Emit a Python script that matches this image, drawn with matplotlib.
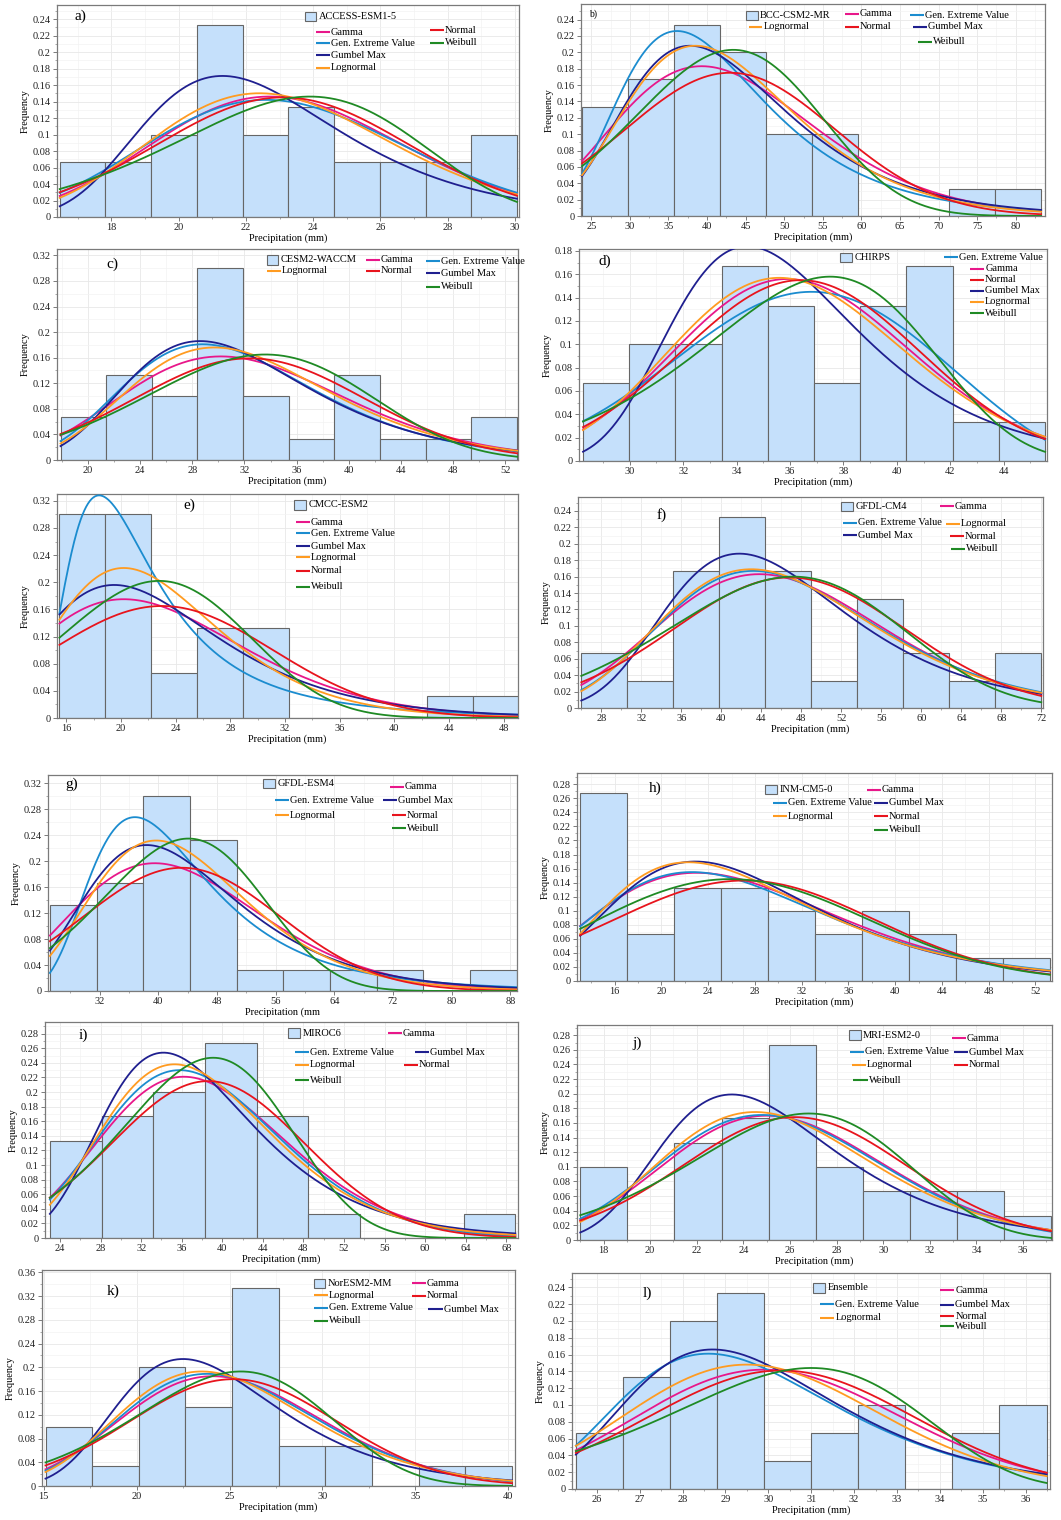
import math

import numpy as np
import matplotlib
matplotlib.use("Agg")
import matplotlib.pyplot as plt
from matplotlib.patches import Rectangle
from matplotlib.ticker import MultipleLocator, AutoMinorLocator, FuncFormatter

plt.rcParams["font.family"] = ["Liberation Serif", "DejaVu Serif"]

W, H = 1061, 1520

# order of the fitted distributions in every *_mode / *_peak list
DISTS = ["Gamma", "GEV", "Gumbel", "Lognormal", "Normal", "Weibull"]
LABELS = {"Gamma": "Gamma", "GEV": "Gen. Extreme Value", "Gumbel": "Gumbel Max",
          "Lognormal": "Lognormal", "Normal": "Normal", "Weibull": "Weibull"}
COLORS = {"Gamma": "#e8178a", "GEV": "#1b8ccf", "Gumbel": "#1f1f8f",
          "Lognormal": "#ff9b21", "Normal": "#e8141d", "Weibull": "#1f8a24"}
BAR_FACE = "#c5e0fb"
BAR_EDGE = "#666666"

# ---- data ----------------------------------------------------------------
# *_bins: (first bin edge, bin width); *_freq: histogram frequencies
# *_mode / *_peak: position and height of each fitted curve's maximum
# *_gevk: shape parameter of the GEV fit

a_name = "ACCESS-ESM1-5"
a_bins = (16.46, 1.36)
a_freq = [0.067, 0.067, 0.1, 0.233, 0.1, 0.133, 0.067, 0.067, 0.067, 0.1]
a_mode = [22.7, 22.6, 21.3, 22.4, 23.1, 23.9]
a_peak = [0.146, 0.142, 0.171, 0.150, 0.145, 0.146]
a_gevk = -0.22

b_name = "BCC-CSM2-MR"
b_bins = (23.8, 5.95)
b_freq = [0.133, 0.167, 0.233, 0.2, 0.1, 0.1, 0.0, 0.0, 0.033, 0.033]
b_mode = [39.3, 36.1, 37.8, 38.5, 43.0, 43.4]
b_peak = [0.183, 0.226, 0.208, 0.208, 0.175, 0.203]
b_gevk = 0.05

c_name = "CESM2-WACCM"
c_bins = (17.9, 3.5)
c_freq = [0.067, 0.133, 0.1, 0.3, 0.1, 0.033, 0.133, 0.033, 0.033, 0.067]
c_mode = [30.2, 28.8, 28.6, 29.7, 32.4, 33.6]
c_peak = [0.162, 0.181, 0.186, 0.176, 0.159, 0.165]
c_gevk = -0.05

d_name = "CHIRPS"
d_bins = (28.25, 1.73)
d_freq = [0.067, 0.1, 0.1, 0.167, 0.133, 0.067, 0.133, 0.167, 0.033, 0.033]
d_mode = [35.9, 36.8, 34.4, 35.6, 36.4, 37.5]
d_peak = [0.156, 0.145, 0.184, 0.157, 0.155, 0.158]
d_gevk = -0.36

e_name = "CMCC-ESM2"
e_bins = (15.5, 3.36)
e_freq = [0.3, 0.3, 0.067, 0.133, 0.133, 0.0, 0.0, 0.0, 0.033, 0.033]
e_mode = [20.2, 18.4, 19.5, 20.2, 23.0, 22.8]
e_peak = [0.175, 0.328, 0.196, 0.221, 0.165, 0.202]
e_gevk = 0.3

f_name = "GFDL-CM4"
f_bins = (26.0, 4.6)
f_freq = [0.067, 0.033, 0.167, 0.233, 0.167, 0.033, 0.133, 0.067, 0.033, 0.067]
f_mode = [43.8, 43.2, 41.8, 43.0, 46.8, 47.2]
f_peak = [0.163, 0.167, 0.188, 0.169, 0.159, 0.160]
f_gevk = -0.1

g_name = "GFDL-ESM4"
g_bins = (25.2, 6.37)
g_freq = [0.133, 0.167, 0.3, 0.233, 0.033, 0.033, 0.033, 0.033, 0.0, 0.033]
g_mode = [39.5, 36.8, 38.4, 39.7, 43.2, 44.1]
g_peak = [0.197, 0.268, 0.225, 0.232, 0.190, 0.235]
g_gevk = 0.15

h_name = "INM-CM5-0"
h_bins = (13.05, 4.02)
h_freq = [0.267, 0.067, 0.133, 0.133, 0.1, 0.067, 0.1, 0.067, 0.033, 0.033]
h_mode = [23.0, 22.6, 22.9, 22.3, 27.1, 25.9]
h_peak = [0.154, 0.155, 0.170, 0.169, 0.143, 0.145]
h_gevk = -0.02

i_name = "MIROC6"
i_bins = (23.0, 5.1)
i_freq = [0.133, 0.167, 0.2, 0.267, 0.167, 0.033, 0.0, 0.0, 0.033]
i_mode = [36.2, 35.8, 34.2, 35.3, 38.6, 39.1]
i_peak = [0.221, 0.230, 0.254, 0.238, 0.215, 0.247]
i_gevk = -0.15

j_name = "MRI-ESM2-0"
j_bins = (17.0, 2.02)
j_freq = [0.1, 0.0, 0.133, 0.167, 0.267, 0.1, 0.067, 0.067, 0.067, 0.033]
j_mode = [25.0, 24.8, 23.5, 24.5, 26.2, 26.8]
j_peak = [0.170, 0.171, 0.199, 0.175, 0.168, 0.173]
j_gevk = -0.2

k_name = "NorESM2-MM"
k_bins = (15.1, 2.51)
k_freq = [0.1, 0.033, 0.2, 0.133, 0.333, 0.067, 0.067, 0.0, 0.033, 0.033]
k_mode = [24.1, 23.8, 22.5, 23.5, 25.2, 25.6]
k_peak = [0.185, 0.189, 0.214, 0.193, 0.180, 0.193]
k_gevk = -0.15

l_name = "Ensemble"
l_bins = (25.51, 1.098)
l_freq = [0.067, 0.133, 0.2, 0.233, 0.033, 0.067, 0.1, 0.0, 0.067, 0.1]
l_mode = [29.9, 28.6, 28.7, 29.5, 30.3, 31.0]
l_peak = [0.142, 0.161, 0.166, 0.148, 0.141, 0.144]
l_gevk = -0.02


def bisect(f, lo, hi, target, n=100):
    for _ in range(n):
        mid = 0.5 * (lo + hi)
        if f(mid) < target:
            lo = mid
        else:
            hi = mid
    return 0.5 * (lo + hi)


def fitted_curve(kind, x, mode, peak, bw, k=0.0):
    """Frequency curve (pdf * bin width) with its maximum at (mode, peak)."""
    p = peak / bw
    if kind == "Normal":
        s = 1 / (math.sqrt(2 * math.pi) * p)
        y = np.exp(-0.5 * ((x - mode) / s) ** 2) / (s * math.sqrt(2 * math.pi))
    elif kind == "Gumbel":
        s = 1 / (math.e * p)
        z = (x - mode) / s
        y = np.exp(-(z + np.exp(-z))) / s
    elif kind == "Gamma":
        a = bisect(lambda a: a * math.log(a - 1) - (a - 1) - math.lgamma(a),
                   1.001, 5000, math.log(mode * p))
        b = mode / (a - 1)
        y = np.exp((a - 1) * np.log(x) - x / b - a * math.log(b) - math.lgamma(a))
    elif kind == "Lognormal":
        s = bisect(lambda s: s * math.exp(s * s / 2), 1e-4, 3,
                   1 / (math.sqrt(2 * math.pi) * p * mode))
        m = math.log(mode) + s * s
        y = np.exp(-(np.log(x) - m) ** 2 / (2 * s * s)) / (x * s * math.sqrt(2 * math.pi))
    elif kind == "Weibull":
        c = bisect(lambda c: (c - 1) * math.exp(-(c - 1) / c), 1.0001, 300, mode * p)
        lam = mode / ((c - 1) / c) ** (1 / c)
        r = x / lam
        y = (c / lam) * r ** (c - 1) * np.exp(-r ** c)
    else:  # GEV
        sig = (1 + k) ** (1 + k) * math.exp(-(1 + k)) / p
        zm = ((1 + k) ** (-k) - 1) / k
        mu = mode - sig * zm
        w = 1 + k * (x - mu) / sig
        y = np.zeros_like(x)
        ok = w > 0
        t = w[ok] ** (-1 / k)
        y[ok] = t ** (k + 1) * np.exp(-t) / sig
    return y * bw


# ---- layout ----------------------------------------------------------------
panels = [
    dict(tag="a)", name=a_name, bins=a_bins, freq=a_freq, mode=a_mode, peak=a_peak, gevk=a_gevk,
         rect=(57, 5, 519, 217), xlim=(16.38, 30.12), ytop=0.257, xstep=2, ystep=0.02,
         tagpos=(0.05, 0.945), tagsize=11,
         legend={"H": (0.536, 0.945), "Gamma": (0.56, 0.871), "GEV": (0.56, 0.819),
                 "Gumbel": (0.56, 0.764), "Lognormal": (0.56, 0.704),
                 "Normal": (0.807, 0.882), "Weibull": (0.807, 0.822)}),
    dict(tag="b)", name=b_name, bins=b_bins, freq=b_freq, mode=b_mode, peak=b_peak, gevk=b_gevk,
         rect=(581, 4, 1045, 216), xlim=(23.66, 83.8), ytop=0.259, xstep=5, ystep=0.02,
         tagpos=(0.025, 0.95), tagsize=7,
         legend={"H": (0.356, 0.945), "Lognormal": (0.361, 0.893), "Gamma": (0.569, 0.953),
                 "Normal": (0.569, 0.893), "GEV": (0.709, 0.948), "Gumbel": (0.716, 0.892),
                 "Weibull": (0.727, 0.822)}),
    dict(tag="c)", name=c_name, bins=c_bins, freq=c_freq, mode=c_mode, peak=c_peak, gevk=c_gevk,
         rect=(57, 249, 518, 460), xlim=(17.63, 52.97), ytop=0.330, xstep=4, ystep=0.04,
         tagpos=(0.121, 0.93), tagsize=11,
         legend={"H": (0.455, 0.948), "Lognormal": (0.455, 0.896), "Gamma": (0.671, 0.948),
                 "Normal": (0.671, 0.896), "GEV": (0.801, 0.943), "Gumbel": (0.801, 0.885),
                 "Weibull": (0.801, 0.822)}),
    dict(tag="d)", name=d_name, bins=d_bins, freq=d_freq, mode=d_mode, peak=d_peak, gevk=d_gevk,
         rect=(579, 249, 1047, 461), xlim=(28.1, 45.62), ytop=0.1817, xstep=2, ystep=0.02,
         tagpos=(0.055, 0.94), tagsize=11,
         legend={"H": (0.558, 0.96), "GEV": (0.779, 0.96), "Gamma": (0.836, 0.906),
                 "Normal": (0.836, 0.854), "Gumbel": (0.836, 0.802),
                 "Lognormal": (0.836, 0.752), "Weibull": (0.836, 0.697)}),
    dict(tag="e)", name=e_name, bins=e_bins, freq=e_freq, mode=e_mode, peak=e_peak, gevk=e_gevk,
         rect=(57, 494, 518, 718), xlim=(15.32, 49.05), ytop=0.330, xstep=4, ystep=0.04,
         tagpos=(0.288, 0.951), tagsize=11,
         legend={"H": (0.515, 0.951), "Gamma": (0.519, 0.873), "GEV": (0.519, 0.824),
                 "Gumbel": (0.519, 0.767), "Lognormal": (0.519, 0.717),
                 "Normal": (0.519, 0.657), "Weibull": (0.519, 0.586)}),
    dict(tag="f)", name=f_name, bins=f_bins, freq=f_freq, mode=f_mode, peak=f_peak, gevk=f_gevk,
         rect=(578, 497, 1043, 708), xlim=(25.67, 72.17), ytop=0.257, xstep=4, ystep=0.02,
         tagpos=(0.179, 0.913), tagsize=11,
         legend={"H": (0.566, 0.956), "GEV": (0.57, 0.879), "Gumbel": (0.57, 0.819),
                 "Gamma": (0.778, 0.956), "Lognormal": (0.792, 0.874),
                 "Normal": (0.80, 0.814), "Weibull": (0.803, 0.754)}),
    dict(tag="g)", name=g_name, bins=g_bins, freq=g_freq, mode=g_mode, peak=g_peak, gevk=g_gevk,
         rect=(48, 775, 517, 991), xlim=(24.94, 88.92), ytop=0.333, xstep=8, ystep=0.04,
         tagpos=(0.05, 0.955), tagsize=11, xlabel="Precipitation (mm",
         legend={"H": (0.459, 0.961), "GEV": (0.484, 0.884), "Lognormal": (0.484, 0.814),
                 "Gamma": (0.729, 0.946), "Gumbel": (0.715, 0.884),
                 "Normal": (0.733, 0.814), "Weibull": (0.733, 0.753)}),
    dict(tag="h)", name=h_name, bins=h_bins, freq=h_freq, mode=h_mode, peak=h_peak, gevk=h_gevk,
         rect=(577, 773, 1052, 981), xlim=(12.78, 53.42), ytop=0.296, xstep=4, ystep=0.02,
         tagpos=(0.165, 0.928), tagsize=11,
         legend={"H": (0.396, 0.92), "GEV": (0.412, 0.856), "Lognormal": (0.412, 0.791),
                 "Gamma": (0.61, 0.92), "Gumbel": (0.625, 0.856),
                 "Normal": (0.625, 0.791), "Weibull": (0.625, 0.727)}),
    dict(tag="i)", name=i_name, bins=i_bins, freq=i_freq, mode=i_mode, peak=i_peak, gevk=i_gevk,
         rect=(45, 1022, 518, 1238), xlim=(22.52, 69.16), ytop=0.296, xstep=4, ystep=0.02,
         tagpos=(0.081, 0.938), tagsize=11,
         legend={"H": (0.514, 0.949), "GEV": (0.528, 0.861), "Lognormal": (0.528, 0.802),
                 "Weibull": (0.528, 0.73), "Gamma": (0.725, 0.949),
                 "Gumbel": (0.782, 0.861), "Normal": (0.758, 0.802)}),
    dict(tag="j)", name=j_name, bins=j_bins, freq=j_freq, mode=j_mode, peak=j_peak, gevk=j_gevk,
         rect=(577, 1025, 1052, 1240), xlim=(16.86, 37.24), ytop=0.294, xstep=2, ystep=0.02,
         tagpos=(0.126, 0.915), tagsize=11,
         legend={"H": (0.572, 0.953), "GEV": (0.575, 0.876), "Lognormal": (0.578, 0.814),
                 "Weibull": (0.582, 0.744), "Gamma": (0.789, 0.938),
                 "Gumbel": (0.793, 0.873), "Normal": (0.793, 0.814)}),
    dict(tag="k)", name=k_name, bins=k_bins, freq=k_freq, mode=k_mode, peak=k_peak, gevk=k_gevk,
         rect=(42, 1270, 515, 1486), xlim=(14.91, 40.36), ytop=0.364, xstep=5, ystep=0.04,
         tagpos=(0.151, 0.9), tagsize=11,
         legend={"H": (0.574, 0.938), "Lognormal": (0.574, 0.884), "GEV": (0.574, 0.825),
                 "Weibull": (0.574, 0.764), "Gamma": (0.782, 0.938),
                 "Normal": (0.782, 0.881), "Gumbel": (0.817, 0.818)}),
    dict(tag="l)", name=l_name, bins=l_bins, freq=l_freq, mode=l_mode, peak=l_peak, gevk=l_gevk,
         rect=(572, 1273, 1050, 1489), xlim=(25.42, 36.57), ytop=0.257, xstep=1, ystep=0.02,
         tagpos=(0.157, 0.907), tagsize=11,
         legend={"H": (0.505, 0.931), "GEV": (0.519, 0.856), "Lognormal": (0.519, 0.793),
                 "Gamma": (0.77, 0.92), "Gumbel": (0.77, 0.852),
                 "Normal": (0.77, 0.799), "Weibull": (0.77, 0.753)}),
]

FS = 7.5
fig = plt.figure(figsize=(W / 100, H / 100), dpi=100)

for pn in panels:
    l, t, r, b = pn["rect"]
    ax = fig.add_axes([l / W, 1 - b / H, (r - l) / W, (b - t) / H])

    start, bw = pn["bins"]
    freq = np.array(pn["freq"])
    edges = start + bw * np.arange(len(freq) + 1)
    ax.bar(edges[:-1], freq, width=bw, align="edge", color=BAR_FACE,
           edgecolor=BAR_EDGE, linewidth=0.8, zorder=2)

    x = np.linspace(edges[0], edges[-1], 500)
    for dist, m, pk in zip(DISTS, pn["mode"], pn["peak"]):
        y = fitted_curve(dist, x, m, pk, bw, pn["gevk"])
        ax.plot(x, y, color=COLORS[dist], lw=1.3, zorder=3)

    ax.set_xlim(*pn["xlim"])
    ax.set_ylim(0, pn["ytop"])
    ax.xaxis.set_major_locator(MultipleLocator(pn["xstep"]))
    ax.yaxis.set_major_locator(MultipleLocator(pn["ystep"]))
    ax.xaxis.set_minor_locator(AutoMinorLocator(2))
    ax.yaxis.set_minor_locator(AutoMinorLocator(2))
    ax.yaxis.set_major_formatter(FuncFormatter(lambda v, _: f"{round(v, 3):g}"))
    ax.xaxis.set_major_formatter(FuncFormatter(lambda v, _: f"{v:g}"))
    ax.grid(True, which="major", color="#e8e8e8", lw=0.6, zorder=0)
    ax.grid(True, which="minor", color="#f3f3f3", lw=0.5, zorder=0)
    ax.set_axisbelow(True)
    ax.tick_params(which="major", labelsize=FS, length=3, width=0.6, pad=1.5,
                   color="#666666", labelcolor="#222222")
    ax.tick_params(which="minor", length=1.5, width=0.5, color="#888888")
    for sp in ax.spines.values():
        sp.set_color("#7a7a7a")
        sp.set_linewidth(0.9)

    ax.set_xlabel(pn.get("xlabel", "Precipitation (mm)"), fontsize=FS, labelpad=1)
    ax.set_ylabel("Frequency", fontsize=FS, labelpad=2)

    ax.text(*pn["tagpos"], pn["tag"], transform=ax.transAxes, fontsize=pn["tagsize"],
            ha="center", va="center", zorder=6)

    # hand-placed legend, as in the source figure
    for key, (lx, ly) in pn["legend"].items():
        if key == "H":
            ax.add_patch(Rectangle((lx, ly - 0.022), 0.025, 0.044, transform=ax.transAxes,
                                   facecolor=BAR_FACE, edgecolor=BAR_EDGE, lw=0.8,
                                   zorder=6, clip_on=False))
            ax.text(lx + 0.03, ly, pn["name"], transform=ax.transAxes, fontsize=FS,
                    va="center", ha="left", zorder=6)
        else:
            ax.plot([lx, lx + 0.03], [ly, ly], transform=ax.transAxes,
                    color=COLORS[key], lw=1.5, zorder=6, solid_capstyle="butt")
            ax.text(lx + 0.032, ly, LABELS[key], transform=ax.transAxes, fontsize=FS,
                    va="center", ha="left", zorder=6)

fig.savefig("out.png", dpi=100)
